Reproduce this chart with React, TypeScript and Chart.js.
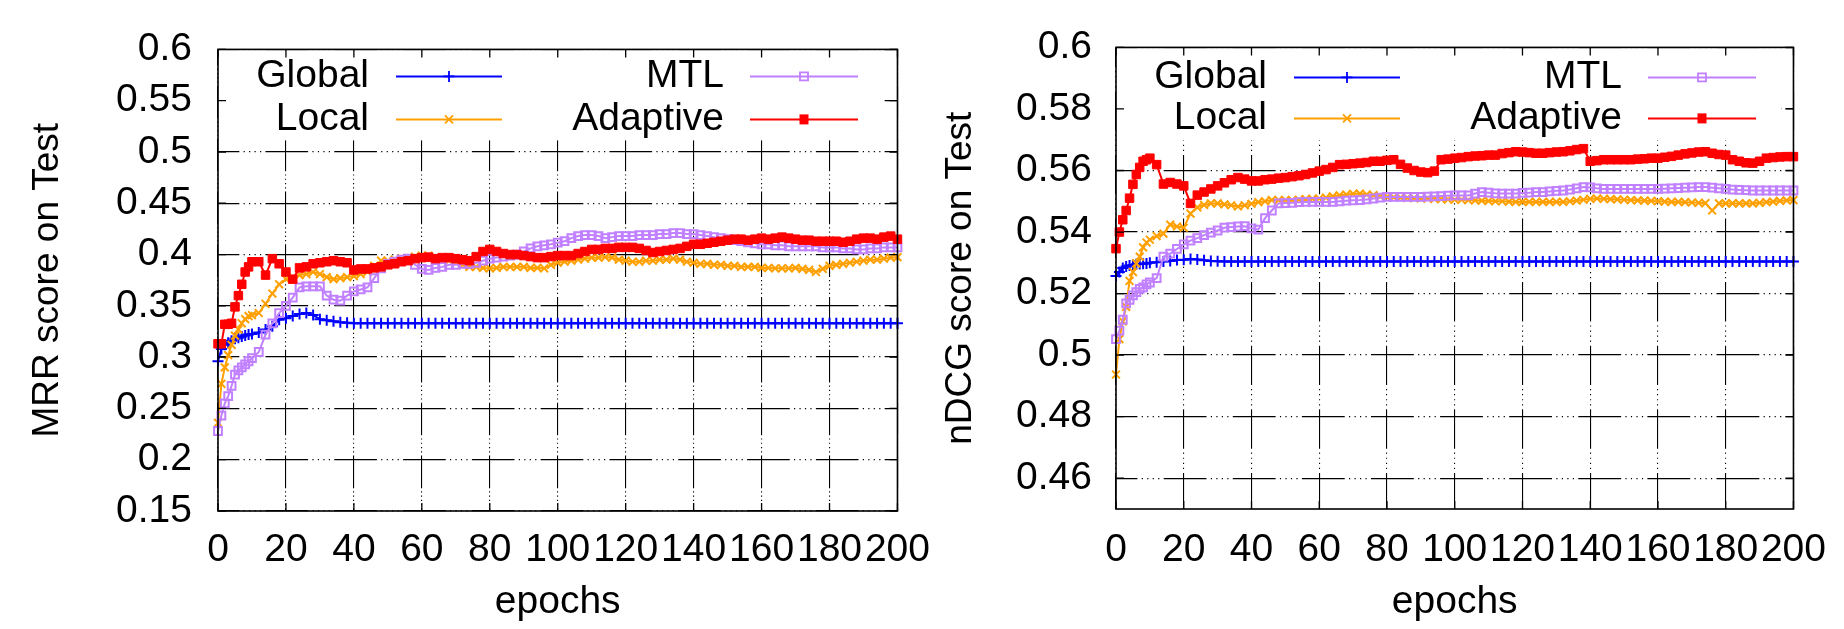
import React, { useEffect, useRef } from "react";
import { Chart, registerables } from "chart.js";

Chart.register(...registerables);

// ---------------- DATA ----------------
const EPOCHS = [
  0, 1, 2, 3, 4, 5, 6, 7, 8, 9, 10,
  12, 14, 16, 18, 20,
  22, 24, 26, 28, 30, 32, 34, 36, 38, 40,
  42, 44, 46, 48, 50, 52, 54, 56, 58, 60,
  62, 64, 66, 68, 70, 72, 74, 76, 78, 80,
  82, 84, 86, 88, 90, 92, 94, 96, 98, 100,
  102, 104, 106, 108, 110, 112, 114, 116, 118, 120,
  122, 124, 126, 128, 130, 132, 134, 136, 138, 140,
  142, 144, 146, 148, 150, 152, 154, 156, 158, 160,
  162, 164, 166, 168, 170, 172, 174, 176, 178, 180,
  182, 184, 186, 188, 190, 192, 194, 196, 198, 200,
];

const SERIES_NAMES = ["Global", "Local", "MTL", "Adaptive"];

// MRR (left panel)
const MRR_GLOBAL = [
  0.296, 0.308, 0.312, 0.314, 0.316, 0.318, 0.319, 0.320, 0.321, 0.322, 0.3225,
  0.324, 0.327, 0.330, 0.3365, 0.338,
  0.340, 0.342, 0.343, 0.341, 0.337, 0.336, 0.335, 0.334, 0.3335, 0.333,
  0.333, 0.333, 0.333, 0.333, 0.333, 0.333, 0.333, 0.333, 0.333, 0.333,
  0.333, 0.333, 0.333, 0.333, 0.333, 0.333, 0.333, 0.333, 0.333, 0.333,
  0.333, 0.333, 0.333, 0.333, 0.333, 0.333, 0.333, 0.333, 0.333, 0.333,
  0.333, 0.333, 0.333, 0.333, 0.333, 0.333, 0.333, 0.333, 0.333, 0.333,
  0.333, 0.333, 0.333, 0.333, 0.333, 0.333, 0.333, 0.333, 0.333, 0.333,
  0.333, 0.333, 0.333, 0.333, 0.333, 0.333, 0.333, 0.333, 0.333, 0.333,
  0.333, 0.333, 0.333, 0.333, 0.333, 0.333, 0.333, 0.333, 0.333, 0.333,
  0.333, 0.333, 0.333, 0.333, 0.333, 0.333, 0.333, 0.333, 0.333, 0.333,
];
const MRR_LOCAL = [
  0.236, 0.274, 0.290, 0.302, 0.312, 0.321, 0.327, 0.333, 0.337, 0.340, 0.341,
  0.343, 0.352, 0.362, 0.371, 0.376,
  0.377, 0.380, 0.381, 0.383, 0.381, 0.378, 0.376, 0.377, 0.378, 0.379,
  0.381, 0.383, 0.389, 0.394, 0.394, 0.395, 0.396, 0.396, 0.398, 0.399,
  0.399, 0.397, 0.395, 0.394, 0.392, 0.390, 0.388, 0.388, 0.387, 0.3866,
  0.387, 0.388, 0.388, 0.388, 0.388, 0.387, 0.387, 0.3866, 0.390, 0.392,
  0.393, 0.394, 0.395, 0.396, 0.397, 0.397, 0.3975, 0.397, 0.395, 0.394,
  0.393, 0.393, 0.394, 0.394, 0.395, 0.395, 0.396, 0.395, 0.393, 0.392,
  0.391, 0.391, 0.390, 0.390, 0.389, 0.389, 0.388, 0.388, 0.388, 0.387,
  0.387, 0.3866, 0.3866, 0.3866, 0.387, 0.386, 0.385, 0.383, 0.386, 0.389,
  0.390, 0.391, 0.392, 0.393, 0.394, 0.395, 0.395, 0.396, 0.397, 0.3975,
];
const MRR_MTL = [
  0.228, 0.243, 0.255, 0.262, 0.272, 0.283, 0.287, 0.290, 0.293, 0.296, 0.299,
  0.305, 0.322, 0.333, 0.343, 0.350,
  0.358, 0.368, 0.369, 0.369, 0.369, 0.360, 0.356, 0.355, 0.360, 0.364,
  0.366, 0.368, 0.377, 0.3866, 0.391, 0.393, 0.395, 0.396, 0.390, 0.386,
  0.385, 0.387, 0.388, 0.390, 0.390, 0.391, 0.391, 0.392, 0.394, 0.396,
  0.397, 0.398, 0.399, 0.400, 0.403, 0.406, 0.408, 0.409, 0.410, 0.4116,
  0.413, 0.416, 0.418, 0.419, 0.419, 0.418, 0.416, 0.417, 0.418, 0.418,
  0.418, 0.419, 0.419, 0.419, 0.420, 0.420, 0.421, 0.421, 0.420, 0.420,
  0.419, 0.418, 0.417, 0.416, 0.415, 0.414, 0.413, 0.412, 0.411, 0.410,
  0.410, 0.409, 0.409, 0.408, 0.408, 0.408, 0.408, 0.408, 0.407, 0.407,
  0.407, 0.406, 0.406, 0.405, 0.405, 0.406, 0.406, 0.407, 0.407, 0.407,
];
const MRR_ADAPTIVE = [
  0.313, 0.313, 0.332, 0.332, 0.333, 0.349, 0.360, 0.371, 0.383, 0.388, 0.393,
  0.393, 0.380, 0.396, 0.391, 0.383,
  0.376, 0.387, 0.388, 0.391, 0.392, 0.393, 0.394, 0.393, 0.392, 0.385,
  0.386, 0.386, 0.387, 0.388, 0.390, 0.391, 0.393, 0.394, 0.396, 0.397,
  0.3975, 0.396, 0.397, 0.397, 0.396, 0.395, 0.394, 0.398, 0.403, 0.405,
  0.403, 0.401, 0.400, 0.400, 0.399, 0.398, 0.397, 0.397, 0.398, 0.399,
  0.399, 0.399, 0.401, 0.403, 0.405, 0.405, 0.406, 0.406, 0.407, 0.407,
  0.407, 0.406, 0.404, 0.402, 0.403, 0.404, 0.405, 0.406, 0.408, 0.410,
  0.410, 0.411, 0.412, 0.413, 0.414, 0.415, 0.415, 0.414, 0.415, 0.416,
  0.415, 0.416, 0.417, 0.416, 0.415, 0.414, 0.414, 0.413, 0.413, 0.413,
  0.413, 0.412, 0.413, 0.415, 0.416, 0.416, 0.415, 0.417, 0.418, 0.415,
];

// nDCG (right panel)
const NDCG_GLOBAL = [
  0.5257, 0.527, 0.5283, 0.5288, 0.5291, 0.5293, 0.5295, 0.5296, 0.5297, 0.5298, 0.530,
  0.5302, 0.5304, 0.5306, 0.5309, 0.531,
  0.5312, 0.5311, 0.5308, 0.5306, 0.5305, 0.5304, 0.5304, 0.5304, 0.5304, 0.5304,
  0.5304, 0.5304, 0.5304, 0.5304, 0.5304, 0.5304, 0.5304, 0.5304, 0.5304, 0.5304,
  0.5304, 0.5304, 0.5304, 0.5304, 0.5304, 0.5304, 0.5304, 0.5304, 0.5304, 0.5304,
  0.5304, 0.5304, 0.5304, 0.5304, 0.5304, 0.5304, 0.5304, 0.5304, 0.5304, 0.5304,
  0.5304, 0.5304, 0.5304, 0.5304, 0.5304, 0.5304, 0.5304, 0.5304, 0.5304, 0.5304,
  0.5304, 0.5304, 0.5304, 0.5304, 0.5304, 0.5304, 0.5304, 0.5304, 0.5304, 0.5304,
  0.5304, 0.5304, 0.5304, 0.5304, 0.5304, 0.5304, 0.5304, 0.5304, 0.5304, 0.5304,
  0.5304, 0.5304, 0.5304, 0.5304, 0.5304, 0.5304, 0.5304, 0.5304, 0.5304, 0.5304,
  0.5304, 0.5304, 0.5304, 0.5304, 0.5304, 0.5304, 0.5304, 0.5304, 0.5304, 0.5304,
];
const NDCG_LOCAL = [
  0.4937, 0.5052, 0.511, 0.5157, 0.5241, 0.527, 0.5298, 0.532, 0.535, 0.5366, 0.5375,
  0.5387, 0.5395, 0.5424, 0.5418, 0.5414,
  0.546, 0.548, 0.5488, 0.5493, 0.5493, 0.549, 0.5487, 0.5483, 0.5487, 0.5492,
  0.5497, 0.550, 0.5504, 0.5504, 0.5504, 0.5504, 0.5505, 0.5507, 0.5508, 0.5509,
  0.5512, 0.5516, 0.5519, 0.5522, 0.5524, 0.5525, 0.5522, 0.552, 0.5516, 0.5514,
  0.5513, 0.5512, 0.5511, 0.551, 0.5509, 0.5509, 0.5508, 0.5507, 0.5506, 0.5505,
  0.5505, 0.5504, 0.5503, 0.5502, 0.5501, 0.550, 0.550, 0.5499, 0.5498, 0.5498,
  0.5498, 0.5498, 0.5498, 0.5498, 0.5498, 0.5498, 0.550, 0.5502, 0.5505, 0.5508,
  0.5509, 0.5508, 0.5507, 0.5506, 0.5505, 0.5504, 0.5503, 0.5502, 0.5501, 0.550,
  0.5499, 0.5498, 0.5498, 0.5497, 0.5496, 0.5495, 0.5494, 0.547, 0.5493, 0.5493,
  0.5493, 0.5493, 0.5493, 0.5493, 0.5495, 0.5497, 0.5499, 0.5501, 0.5503, 0.5504,
];
const NDCG_MTL = [
  0.5052, 0.508, 0.5115, 0.5168, 0.518, 0.5194, 0.5205, 0.5215, 0.522, 0.523, 0.5236,
  0.525, 0.532, 0.533, 0.5345, 0.536,
  0.5372, 0.538, 0.539, 0.5398, 0.5405, 0.5414, 0.5416, 0.5418, 0.5419, 0.5412,
  0.5408, 0.5445, 0.547, 0.5493, 0.5494, 0.5495, 0.5497, 0.5498, 0.5498, 0.5498,
  0.5498, 0.5498, 0.550, 0.5502, 0.5503, 0.5504, 0.5506, 0.5509, 0.5512, 0.5514,
  0.5514, 0.5514, 0.5514, 0.5514, 0.5514, 0.5515, 0.5516, 0.5517, 0.5518, 0.5519,
  0.5519, 0.5519, 0.5525, 0.553, 0.5528, 0.5526, 0.5525, 0.5525, 0.5525, 0.5527,
  0.5528, 0.553, 0.553, 0.5532, 0.5534, 0.5535, 0.5538, 0.5542, 0.5546, 0.5545,
  0.5542, 0.554, 0.554, 0.554, 0.554, 0.554, 0.554, 0.554, 0.554, 0.554,
  0.5541, 0.5542, 0.5543, 0.5544, 0.5545, 0.5546, 0.5546, 0.5544, 0.5542, 0.554,
  0.5538, 0.5537, 0.5536, 0.5535, 0.5535, 0.5535, 0.5535, 0.5535, 0.5535, 0.5535,
];
const NDCG_ADAPTIVE = [
  0.5346, 0.540, 0.544, 0.547, 0.551, 0.5555, 0.5587, 0.561, 0.563, 0.5635, 0.564,
  0.5619, 0.5556, 0.5561, 0.5556, 0.555,
  0.5493, 0.552, 0.553, 0.554, 0.555, 0.556, 0.557, 0.5577, 0.5572, 0.5566,
  0.5566, 0.557, 0.5572, 0.5575, 0.5577, 0.558, 0.5583, 0.5587, 0.5592, 0.5598,
  0.5603, 0.561, 0.5619, 0.562, 0.5622, 0.5624, 0.5626, 0.563, 0.563, 0.5633,
  0.5635, 0.562, 0.5608, 0.560, 0.5595, 0.5593, 0.5598, 0.5635, 0.5637, 0.564,
  0.5642, 0.5645, 0.5647, 0.5648, 0.565, 0.565, 0.5655, 0.5658, 0.5661, 0.566,
  0.5658, 0.5656, 0.5656, 0.5658, 0.566, 0.5661, 0.5664, 0.5668, 0.5671, 0.563,
  0.5632, 0.5635, 0.5635, 0.5635, 0.5635, 0.5635, 0.5637, 0.5638, 0.564, 0.564,
  0.5643, 0.5646, 0.565, 0.5654, 0.5657, 0.566, 0.5661, 0.5656, 0.5652, 0.565,
  0.5635, 0.563, 0.5625, 0.5624, 0.563, 0.564, 0.5642, 0.5644, 0.5645, 0.5645,
];

const EPOCH_TICKS = [0, 20, 40, 60, 80, 100, 120, 140, 160, 180, 200];
const MRR_TICKS = [0.15, 0.2, 0.25, 0.3, 0.35, 0.4, 0.45, 0.5, 0.55, 0.6];
const NDCG_TICKS = [0.46, 0.48, 0.5, 0.52, 0.54, 0.56, 0.58, 0.6];

// ---------------- STYLE ----------------
const FONT = '"Liberation Sans", Arial, Helvetica, sans-serif';
const BLUE = "#0000ff";
const ORANGE = "#ffa000";
const PURPLE = "#c080ff";
const RED = "#ff0000";
const SERIES_COLORS = [BLUE, ORANGE, PURPLE, RED];
const SERIES_MARKERS = ["plus", "x", "openSquare", "filledSquare"];
const LEGEND_POS = [
  { col: 0, row: 0 },
  { col: 0, row: 1 },
  { col: 1, row: 0 },
  { col: 1, row: 1 },
];
const LEGEND_TEXT_RIGHT = [151, 506];
const LEGEND_LINE_START = [178, 532];
const LEGEND_LINE_END = [284, 640];

function makeDash(spacing: number) {
  const solid = spacing * 0.62;
  const dot = 1.2;
  const gap = (spacing - solid - 4 * dot) / 5;
  return [solid, gap, dot, gap, dot, gap, dot, gap, dot, gap];
}

function drawMarker(ctx: CanvasRenderingContext2D, kind: string, x: number, y: number, color: string) {
  ctx.save();
  ctx.strokeStyle = color;
  ctx.fillStyle = color;
  ctx.lineWidth = 1.8;
  ctx.beginPath();
  if (kind === "plus") {
    ctx.moveTo(x - 5.5, y);
    ctx.lineTo(x + 5.5, y);
    ctx.moveTo(x, y - 5.5);
    ctx.lineTo(x, y + 5.5);
    ctx.stroke();
  } else if (kind === "x") {
    ctx.moveTo(x - 4, y - 4);
    ctx.lineTo(x + 4, y + 4);
    ctx.moveTo(x - 4, y + 4);
    ctx.lineTo(x + 4, y - 4);
    ctx.stroke();
  } else if (kind === "openSquare") {
    ctx.strokeRect(x - 4, y - 4, 8, 8);
  } else {
    ctx.fillRect(x - 4.5, y - 5, 9, 10);
  }
  ctx.restore();
}

function makeFramePlugin(cfg: { yTicks: number[]; rows: number[]; boxW: number; boxH: number }) {
  return {
    id: "gnuplotFrame",
    beforeDatasetsDraw(chart: any) {
      const { ctx, chartArea: ca } = chart;
      ctx.save();
      ctx.fillStyle = "#ffffff";
      ctx.fillRect(ca.left + 1, ca.top + 1, cfg.boxW, cfg.boxH);
      ctx.restore();
    },
    afterDatasetsDraw(chart: any) {
      const { ctx, chartArea: ca, scales } = chart;
      ctx.save();
      ctx.strokeStyle = "#000";
      ctx.lineWidth = 1.6;
      ctx.strokeRect(ca.left, ca.top, ca.right - ca.left, ca.bottom - ca.top);
      ctx.lineWidth = 1.3;
      ctx.beginPath();
      for (const v of EPOCH_TICKS) {
        const px = scales.x.getPixelForValue(v);
        ctx.moveTo(px, ca.top);
        ctx.lineTo(px, ca.top + 8);
        ctx.moveTo(px, ca.bottom);
        ctx.lineTo(px, ca.bottom - 8);
      }
      for (const v of cfg.yTicks) {
        const py = scales.y.getPixelForValue(v);
        ctx.moveTo(ca.left, py);
        ctx.lineTo(ca.left + 8, py);
        ctx.moveTo(ca.right, py);
        ctx.lineTo(ca.right - 8, py);
      }
      ctx.stroke();

      ctx.font = `39px ${FONT}`;
      ctx.textAlign = "right";
      ctx.textBaseline = "middle";
      ctx.fillStyle = "#000";
      SERIES_NAMES.forEach((name, i) => {
        const { col, row } = LEGEND_POS[i];
        const y = ca.top + cfg.rows[row];
        const base = ca.left;
        ctx.fillText(name, base + LEGEND_TEXT_RIGHT[col], y);
        ctx.strokeStyle = SERIES_COLORS[i];
        ctx.lineWidth = 2;
        ctx.beginPath();
        ctx.moveTo(base + LEGEND_LINE_START[col], y);
        ctx.lineTo(base + LEGEND_LINE_END[col], y);
        ctx.stroke();
        drawMarker(ctx, SERIES_MARKERS[i], base + (LEGEND_LINE_START[col] + LEGEND_LINE_END[col]) / 2, y, SERIES_COLORS[i]);
      });
      ctx.restore();
    },
  };
}

function makeDatasets(g: number[], l: number[], m: number[], a: number[]) {
  const pts = (vals: number[]) => EPOCHS.map((e, i) => ({ x: e, y: vals[i] }));
  const common = { borderWidth: 2, tension: 0, clip: false as any, pointHoverRadius: 0 };
  // index 0 is drawn on top in Chart.js, so Adaptive first
  return [
    { ...common, label: SERIES_NAMES[3], data: pts(a), borderColor: RED, backgroundColor: RED,
      pointStyle: "rect", pointRadius: 6, pointBorderWidth: 1, pointBackgroundColor: RED, pointBorderColor: RED },
    { ...common, label: SERIES_NAMES[2], data: pts(m), borderColor: PURPLE, backgroundColor: PURPLE,
      pointStyle: "rect", pointRadius: 5.5, pointBorderWidth: 2, pointBackgroundColor: "rgba(0,0,0,0)", pointBorderColor: PURPLE },
    { ...common, label: SERIES_NAMES[1], data: pts(l), borderColor: ORANGE, backgroundColor: ORANGE,
      pointStyle: "crossRot", pointRadius: 5.5, pointBorderWidth: 2, pointBorderColor: ORANGE },
    { ...common, label: SERIES_NAMES[0], data: pts(g), borderColor: BLUE, backgroundColor: BLUE,
      pointStyle: "cross", pointRadius: 5.5, pointBorderWidth: 2, pointBorderColor: BLUE },
  ];
}

type PanelCfg = {
  datasets: any[];
  yMin: number;
  yMax: number;
  yTicks: number[];
  yTitle: string;
  yAxisW: number;
  xAxisH: number;
  padTop: number;
  padRight: number;
  yTickPad: number;
  xTickPad: number;
  yTitlePad: number;
  rows: number[];
  boxH: number;
  hSpacing: number;
  vSpacing: number;
};

function buildConfig(p: PanelCfg): any {
  const hDash = makeDash(p.hSpacing);
  const vDash = makeDash(p.vSpacing);
  return {
    type: "line",
    data: { datasets: p.datasets },
    plugins: [makeFramePlugin({ yTicks: p.yTicks, rows: p.rows, boxW: 664, boxH: p.boxH })],
    options: {
      responsive: false,
      animation: false,
      devicePixelRatio: 1,
      events: [],
      layout: { padding: { top: p.padTop, right: p.padRight, bottom: 0, left: 0 } },
      plugins: { legend: { display: false }, tooltip: { enabled: false } },
      scales: {
        x: {
          type: "linear",
          min: 0,
          max: 200,
          afterBuildTicks: (s: any) => {
            s.ticks = EPOCH_TICKS.map((v) => ({ value: v }));
          },
          afterFit: (s: any) => {
            s.height = p.xAxisH;
          },
          ticks: {
            autoSkip: false,
            maxRotation: 0,
            padding: p.xTickPad,
            color: "#000",
            font: { family: FONT, size: 39 },
            callback: (v: any) => String(v),
          },
          grid: { color: "#000", lineWidth: 1.1, drawTicks: false },
          border: { display: false, dash: vDash, dashOffset: vDash[0] / 2 },
          title: {
            display: true,
            text: "epochs",
            color: "#000",
            font: { family: FONT, size: 39 },
            padding: { top: 0, bottom: 3 },
          },
        },
        y: {
          type: "linear",
          min: p.yMin,
          max: p.yMax,
          afterBuildTicks: (s: any) => {
            s.ticks = p.yTicks.map((v) => ({ value: v }));
          },
          afterFit: (s: any) => {
            s.width = p.yAxisW;
          },
          ticks: {
            padding: p.yTickPad,
            color: "#000",
            font: { family: FONT, size: 39 },
            callback: (v: any) => String(Number(Number(v).toFixed(2))),
          },
          grid: { color: "#000", lineWidth: 1.3, drawTicks: false },
          border: { display: false, dash: hDash, dashOffset: hDash[0] / 2 },
          title: {
            display: true,
            text: p.yTitle,
            color: "#000",
            font: { family: FONT, size: 37 },
            padding: { top: p.yTitlePad, bottom: 0 },
          },
        },
      },
    },
  };
}

function Panel({ left, width, cfg }: { left: number; width: number; cfg: () => any }) {
  const ref = useRef<HTMLCanvasElement | null>(null);
  useEffect(() => {
    if (!ref.current) return;
    const chart = new Chart(ref.current, cfg());
    return () => chart.destroy();
  }, []);
  return (
    <canvas
      ref={ref}
      width={width}
      height={629}
      style={{ position: "absolute", left, top: 0, width, height: 629 }}
    />
  );
}

const leftCfg = () =>
  buildConfig({
    datasets: makeDatasets(MRR_GLOBAL, MRR_LOCAL, MRR_MTL, MRR_ADAPTIVE),
    yMin: 0.15,
    yMax: 0.6,
    yTicks: MRR_TICKS,
    yTitle: "MRR score on Test",
    yAxisW: 218,
    xAxisH: 118,
    padTop: 36,
    padRight: 40,
    yTickPad: 26,
    xTickPad: 16,
    yTitlePad: 26,
    rows: [27, 70],
    boxH: 90,
    hSpacing: 68.8,
    vSpacing: 52.8,
  });

const rightCfg = () =>
  buildConfig({
    datasets: makeDatasets(NDCG_GLOBAL, NDCG_LOCAL, NDCG_MTL, NDCG_ADAPTIVE),
    yMin: 0.45,
    yMax: 0.6,
    yTicks: NDCG_TICKS,
    yTitle: "nDCG score on Test",
    yAxisW: 186,
    xAxisH: 120,
    padTop: 32,
    padRight: 37,
    yTickPad: 24,
    xTickPad: 18,
    yTitlePad: 9,
    rows: [30, 71],
    boxH: 92,
    hSpacing: 69.1,
    vSpacing: 63.6,
  });

export default function App() {
  return (
    <div
      style={{
        position: "fixed",
        left: 0,
        top: 0,
        width: 1844,
        height: 629,
        background: "#ffffff",
        overflow: "hidden",
      }}
    >
      <Panel left={0} width={946} cfg={leftCfg} />
      <Panel left={930} width={914} cfg={rightCfg} />
    </div>
  );
}
